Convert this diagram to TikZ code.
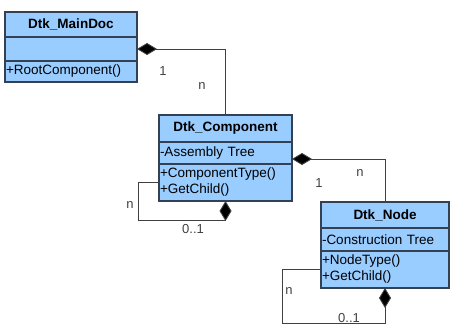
\documentclass[tikz,border=0pt]{standalone}
\usepackage{fontspec}
\setmainfont{Liberation Sans}
\usetikzlibrary{positioning,arrows.meta}
\definecolor{classfill}{RGB}{153,204,255}
\definecolor{classline}{RGB}{52,64,84}
\tikzset{
	cls/.style={draw=classline,fill=classfill,line width=1.2pt,outer sep=0pt,inner xsep=1pt,inner ysep=0pt},
	clstitle/.style={cls,minimum width=#1,font=\fontsize{13.5}{16}\selectfont\bfseries,align=center},
	clsbody/.style={cls,text width=#1,align=left},
	comp/.style={draw=black!75,line width=0.9pt,-{Diamond[length=20pt,width=12pt,fill=black]}},
	mult/.style={text=black!75,font=\fontsize{13}{15}\selectfont}
}
\begin{document}
\begin{tikzpicture}[x=1pt,y=-1pt,font=\fontsize{13.5}{16}\selectfont]
	\useasboundingbox (0,0) rectangle (462,326);
	% Dtk_MainDoc
	\node[clstitle=132pt,minimum height=25pt] (doc) at (71,24.5) {Dtk\_MainDoc};
	\node[clsbody=130pt,minimum height=24pt,below=0pt of doc] (doc-attr) {};
	\node[clsbody=130pt,minimum height=21pt,below=0pt of doc-attr] (doc-ops) {+RootComponent()};
	% Dtk_Component
	\node[clstitle=133pt,minimum height=27pt] (cmp) at (225.5,128.5) {Dtk\_Component};
	\node[clsbody=131pt,minimum height=22pt,below=0pt of cmp] (cmp-attr) {-Assembly Tree};
	\node[clsbody=131pt,minimum height=37pt,below=0pt of cmp-attr] (cmp-ops) {+ComponentType()\\+GetChild()};
	% Dtk_Node
	\node[clstitle=128pt,minimum height=26pt] (nd) at (385,215) {Dtk\_Node};
	\node[clsbody=126pt,minimum height=23pt,below=0pt of nd] (nd-attr) {-Construction Tree};
	\node[clsbody=126pt,minimum height=37pt,below=0pt of nd-attr] (nd-ops) {+NodeType()\\+GetChild()};
	
	\draw[comp] (cmp.north) |- (doc-attr.east);
	\draw[comp] (nd.north) |- ([yshift=-6pt]cmp-attr.east);
	\draw[comp] (cmp-ops.west) -- ++(-21,0) -- ++(0,38) -| (cmp-ops.south);
	\draw[comp] (nd-ops.west) -- ++(-39,0) -- ++(0,54) -| (nd-ops.south);
	
	\node[mult] (doc-one) at (163,71) {1};
	\node[mult] (doc-n) at (202,86) {n};
	\node[mult] (cmp-one) at (319,183) {1};
	\node[mult] (cmp-n) at (360,173) {n};
	\node[mult] (cmp-self-n) at (130,205) {n};
	\node[mult] (cmp-self-m) at (193,229) {0..1};
	\node[mult] (nd-self-n) at (289,291) {n};
	\node[mult] (nd-self-m) at (349,318) {0..1};
\end{tikzpicture}
\end{document}
